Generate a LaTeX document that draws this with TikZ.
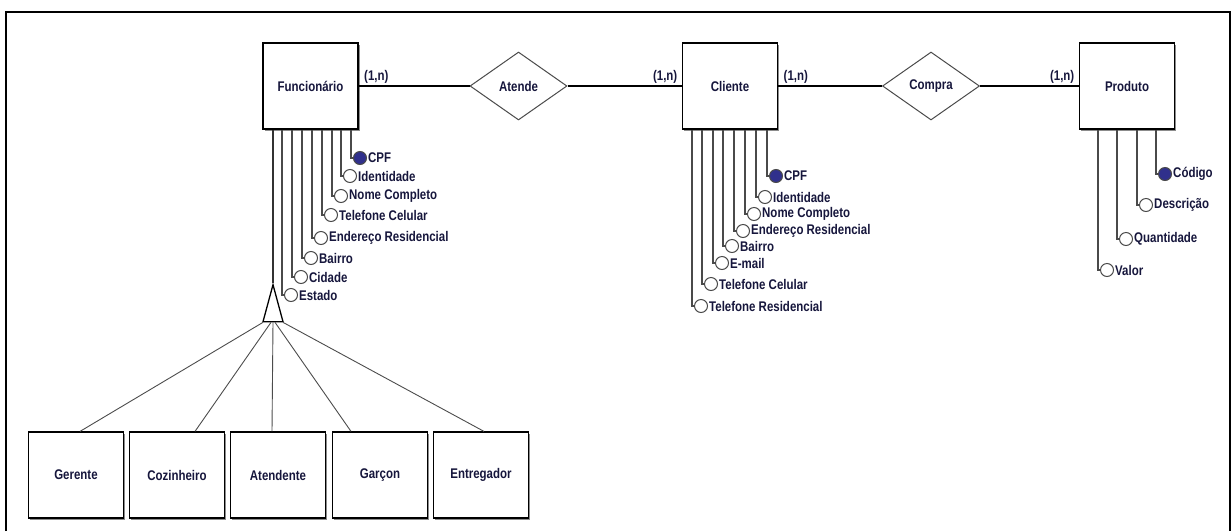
\documentclass[tikz,border=0pt]{standalone}
\usepackage{fontspec}
\setmainfont{Liberation Sans}[FakeStretch=0.82]
\usetikzlibrary{positioning, shapes.geometric, shadows}
\definecolor{cink}{HTML}{16163C}
\definecolor{ckey}{HTML}{30308C}
\definecolor{cline}{HTML}{4A4A4A}
\tikzset{
  every picture/.style={font=\bfseries\fontsize{14}{16}\selectfont},
  entity/.style={draw=black, fill=white, line width=1.2pt, text=cink, minimum width=95pt, minimum height=86pt,
    drop shadow={shadow xshift=1.5pt, shadow yshift=-1.5pt, fill=black!45, opacity=1}},
  relation/.style={diamond, draw=cline, fill=white, line width=1pt, text=cink, minimum width=97pt, minimum height=68pt, inner sep=0pt},
  attr/.style={circle, draw=cline, line width=1pt, minimum size=13pt, inner sep=0pt},
  attrtext/.style={right=1pt of #1, inner sep=0pt, text=cink},
  attrline/.style={draw=cline, line width=1.1pt},
  rel/.style={draw=black, line width=1.2pt},
  card/.style={inner sep=2pt, text=cink},
  isa/.style={isosceles triangle, shape border rotate=90, isosceles triangle stretches, minimum height=37pt, minimum width=20pt,
    inner sep=0pt, draw=black, line width=1.3pt, fill=white},
  spec/.style={draw=black!70, line width=0.9pt},
}

\begin{document}
\begin{tikzpicture}[x=1pt, y=-1pt]
  \useasboundingbox (0,0) rectangle (1232,531);
  \draw[line width=1.3pt] (6,531) -- (6,12) -- (1230,12) -- (1230,531);

  % entities and relationships
  \node[entity] (func) at (310.5,86) {Funcionário};
  \node[entity] (cli) at (730,86) {Cliente};
  \node[entity] (prod) at (1127,86) {Produto};
  \node[relation] (atende) at (518.5,86) {Atende};
  \node[relation] (compra) at (931,86) {Compra};

  \draw[rel] (func) -- node[card, pos=0, above right, xshift=3pt] {(1,n)} (atende);
  \draw[rel] (atende) -- node[card, pos=1, above left, xshift=-2pt] {(1,n)} (cli);
  \draw[rel] (cli) -- node[card, pos=0, above right, xshift=3pt] {(1,n)} (compra);
  \draw[rel] (compra) -- node[card, pos=1, above left, xshift=-2pt] {(1,n)} (prod);

  % attributes of Funcionario
  \foreach \lx/\y/\t/\f [count=\i] in {351/158/CPF/ckey, 341/176/Identidade/white, 332/196/Nome Completo/white,
      322/215/Telefone Celular/white, 312/238/Endereço Residencial/white, 302/258/Bairro/white,
      292/277/Cidade/white, 282/295/Estado/white} {
    \node[attr, fill=\f] (fa\i) at (\lx+9,\y) {};
    \node[attrtext=fa\i] (fl\i) {\t};
    \draw[attrline] (func.south -| \lx,0) |- (fa\i);
  }

  % attributes of Cliente
  \foreach \lx/\y/\t/\f [count=\i] in {767/176/CPF/ckey, 756/197/Identidade/white, 745/214/Nome Completo/white,
      734/231/Endereço Residencial/white, 723/246/Bairro/white, 713/263/E-mail/white,
      702/284/Telefone Celular/white, 692/306/Telefone Residencial/white} {
    \node[attr, fill=\f] (ca\i) at (\lx+9,\y) {};
    \node[attrtext=ca\i] (cl\i) {\t};
    \draw[attrline] (cli.south -| \lx,0) |- (ca\i);
  }

  % attributes of Produto
  \foreach \lx/\y/\t/\f [count=\i] in {1156/174/Código/ckey, 1137/205/Descrição/white,
      1117/239/Quantidade/white, 1098/270/Valor/white} {
    \node[attr, fill=\f] (pa\i) at (\lx+9,\y) {};
    \node[attrtext=pa\i] (pl\i) {\t};
    \draw[attrline] (prod.south -| \lx,0) |- (pa\i);
  }

  % specialisation of Funcionario
  \node[isa, anchor=apex] (isa) at (273,283) {};
  \draw[attrline, draw=black!80] (func.south -| 273,0) -- (isa.apex);
  \foreach \n/\cx/\sx/\ex [count=\i] in {Gerente/76/-10/4, Cozinheiro/177/-2/18, Atendente/278/0/-6,
      Garçon/380/2/-29, Entregador/481/10/3} {
    \node[entity] (sub\i) at (\cx,475) {\n};
    \draw[spec] ([xshift=\sx pt]isa.south) -- ([xshift=\ex pt]sub\i.north);
  }
\end{tikzpicture}
\end{document}
